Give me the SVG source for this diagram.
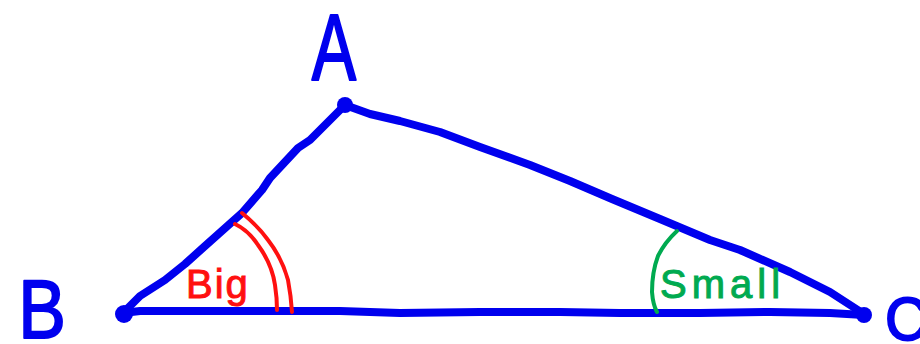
<svg xmlns="http://www.w3.org/2000/svg" width="920" height="344" viewBox="0 0 920 344">
<style>
.edge{fill:none;stroke:#0000ee;stroke-width:8;stroke-linecap:round;stroke-linejoin:round}
.dot{fill:#0000ee}
.vlabel{font-family:"Liberation Sans",Arial,sans-serif;fill:#0000ee;stroke:#0000ee;stroke-width:2;stroke-linejoin:round}
.big{fill:none;stroke:#ff1010;stroke-width:4;stroke-linecap:round}
.small{fill:none;stroke:#00aa50;stroke-width:4;stroke-linecap:round}
.bigt{font-family:"Liberation Sans",Arial,sans-serif;font-size:40px;fill:#ff1010;stroke:#ff1010;stroke-width:1;letter-spacing:2px}
.smallt{font-family:"Liberation Sans",Arial,sans-serif;font-size:40px;fill:#00aa50;stroke:#00aa50;stroke-width:1;letter-spacing:5px}
</style>
<rect width="920" height="344" fill="#ffffff"/>
<g id="connectors">
<path id="edge-AB" class="edge" d="M123,313 L140,296 L165,280 L185,264 L205,246 L242,213 L262,190 L270,178 L298,148 L310,140 L322,128 L338,112 L345,105"/>
<path id="edge-AC" class="edge" d="M345,105 L370,114 L400,121 L440,132 L480,147 L530,165 L570,181 L612,199 L660,219 L710,240 L740,250 L790,272 L830,292 L864,314"/>
<path id="edge-BC" class="edge" d="M123,313 L140,311 L180,311 L240,311 L290,311 L340,311 L400,313 L480,312 L560,312 L620,313 L700,313 L770,312 L830,313 L864,315"/>
</g>
<g id="node-A">
<circle class="dot" cx="345" cy="105" r="8"/>
<text class="vlabel" x="334" y="80" font-size="90" text-anchor="middle" transform="translate(334 80) scale(0.74 1.05) translate(-334 -80)">A</text>
</g>
<g id="node-B">
<circle class="dot" cx="124" cy="314" r="9"/>
<text class="vlabel" x="42" y="338" font-size="84" text-anchor="middle" transform="translate(42 338) scale(0.85 1) translate(-42 -338)">B</text>
</g>
<g id="node-C">
<circle class="dot" cx="864" cy="315" r="8"/>
<text class="vlabel" x="885" y="340" font-size="62" transform="translate(885 340) scale(0.95 1) translate(-885 -340)">C</text>
</g>
<g id="angle-B">
<path class="big" d="M242,213 Q258,226 268,240 Q282,258 288,280 Q291,296 292,312"/>
<path class="big" d="M235,224 Q248,230 258,245 Q272,264 275,285 Q277,298 277,310"/>
<text class="bigt" x="186" y="298">Big</text>
</g>
<g id="angle-C">
<path class="small" d="M677,231 Q665,242 658,256 Q652,272 652,292 Q653,305 657,312"/>
<text class="smallt" x="660" y="298">Small</text>
</g>
</svg>
